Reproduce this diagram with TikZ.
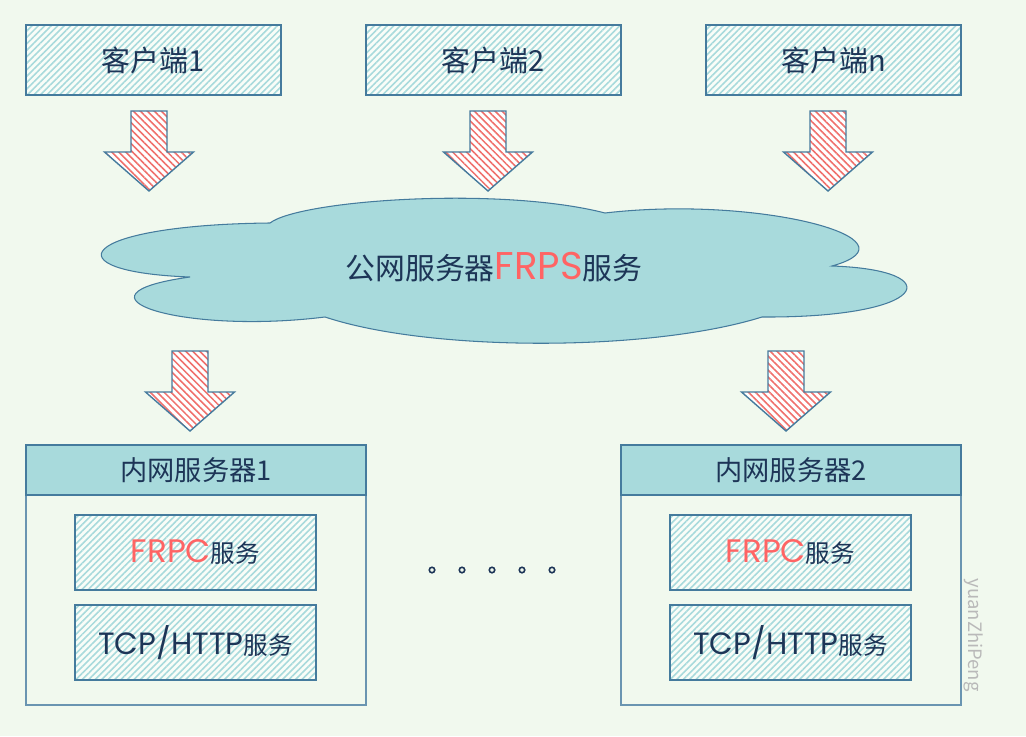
\documentclass[tikz,border=0pt]{standalone}
\usepackage{fontspec}
\setmainfont{Noto Sans CJK SC}
\newfontfamily\latinfont{Poppins}
\usetikzlibrary{patterns.meta}
\definecolor{bgcol}{HTML}{F1F9EE}
\definecolor{edgecol}{HTML}{457B9D}
\definecolor{cloudcol}{HTML}{A8DADC}
\definecolor{textcol}{HTML}{1D3557}
\definecolor{redcol}{HTML}{FF6464}
\definecolor{hatchred}{HTML}{F0706C}
\begin{document}
\begin{tikzpicture}[x=0.02cm, y=-0.02cm,
    every node/.style={text=textcol, inner sep=0pt},
    hatchbox/.style={draw=edgecol, line width=0.8pt, preaction={fill=white!60!bgcol},
      pattern={Lines[angle=45, distance=2.6pt, line width=0.9pt]}, pattern color=cloudcol},
    clientbox/.style={hatchbox, minimum width=5.1cm, minimum height=1.4cm, font=\fontsize{16.5}{16.5}\selectfont},
    servicebox/.style={hatchbox, minimum width=4.82cm, minimum height=1.5cm, font=\fontsize{14}{14}\selectfont},
    serverbox/.style={draw=edgecol!80, line width=0.9pt, fill=bgcol, minimum width=6.8cm, minimum height=5.2cm},
    headbox/.style={draw=edgecol, line width=0.8pt, fill=cloudcol, minimum width=6.8cm, minimum height=1cm, font=\fontsize{15.5}{15.5}\selectfont},
    blockarrow/.style={draw=edgecol, line width=0.8pt, line join=miter, preaction={fill=white},
      pattern={Lines[angle=-45, distance=2.8pt, line width=0.9pt]}, pattern color=hatchred},
    cloudshape/.style={draw=edgecol, line width=0.6pt, fill=cloudcol}]
    \fill[bgcol] (0,0) rectangle (1026,736);
    \useasboundingbox (0,0) rectangle (1026,736);
    % clients
    \node[clientbox] (client1) at (153.5,60) {客户端1};
    \node[clientbox] (client2) at (493.5,60) {客户端2};
    \node[clientbox] (client3) at (833.5,60) {客户端n};
    % block arrows
    \foreach \ax/\ay in {149/111, 488/111, 828/111, 190/351, 786/351}
      \draw[blockarrow] (\ax-18,\ay) -- (\ax+18,\ay) -- (\ax+18,\ay+41) -- (\ax+44.5,\ay+41)
        -- (\ax,\ay+80) -- (\ax-44.5,\ay+41) -- (\ax-18,\ay+41) -- cycle;
    % cloud
    \draw[cloudshape] (270,223) .. controls (300,200) and (500,186) .. (605,213)
      .. controls (760,195) and (925,240) .. (832,266)
      .. controls (950,270) and (930,318) .. (762,317)
      .. controls (650,352) and (430,352) .. (325,317)
      .. controls (180,335) and (60,295) .. (190,277)
      .. controls (50,272) and (75,225) .. (270,223) -- cycle;
    \node[font=\fontsize{17}{17}\selectfont] (frps) at (494,267)
      {公网服务器{\latinfont\fontsize{22}{22}\selectfont\color{redcol}FRPS}服务};
    % servers
    \node[serverbox] (server1) at (196,575) {};
    \node[headbox] (head1) at (196,470) {内网服务器1};
    \node[servicebox] (frpc1) at (195.5,552.5) {{\latinfont\fontsize{18.5}{18.5}\selectfont\color{redcol}FRPC}服务};
    \node[servicebox] (tcp1) at (195.5,642.5) {{\latinfont\fontsize{17.5}{17.5}\selectfont TCP/HTTP}服务};
    \node[serverbox] (server2) at (791,575) {};
    \node[headbox] (head2) at (791,470) {内网服务器2};
    \node[servicebox] (frpc2) at (790.5,552.5) {{\latinfont\fontsize{18.5}{18.5}\selectfont\color{redcol}FRPC}服务};
    \node[servicebox] (tcp2) at (790.5,642.5) {{\latinfont\fontsize{17.5}{17.5}\selectfont TCP/HTTP}服务};
    \foreach \dx in {432,462,492,522,552}
      \draw[textcol, line width=0.9pt] (\dx,570) circle[radius=0.055cm];
    \node[text=gray!55, rotate=-90, font=\fontsize{10.5}{10.5}\selectfont] (mark) at (974,635) {yuanZhiPeng};
\end{tikzpicture}
\end{document}
